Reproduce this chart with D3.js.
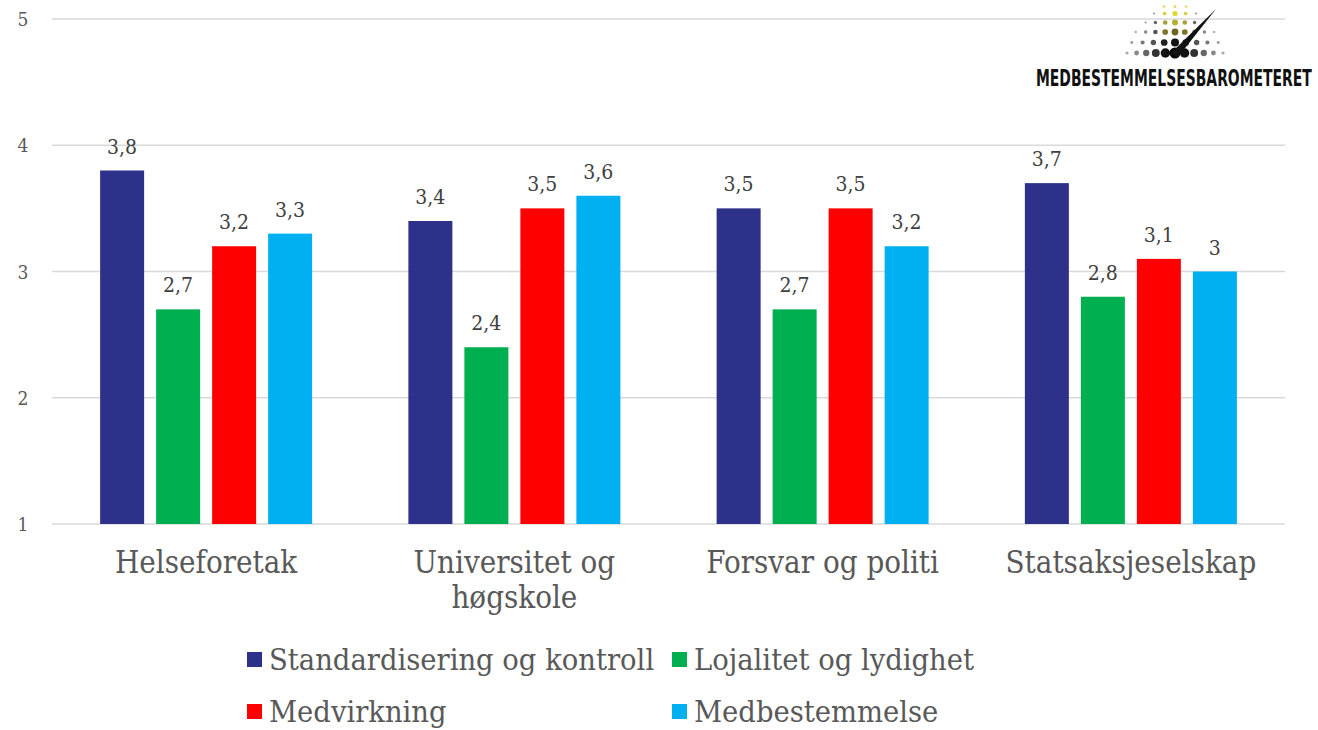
<!DOCTYPE html>
<html><head><meta charset="utf-8">
<script src="https://cdn.jsdelivr.net/npm/d3@7"></script>
<style>body{margin:0;background:#fff}svg{display:block}</style>
</head><body>
<svg id="c" width="1318" height="730"></svg>
<script>
const categories = [["Helseforetak"], ["Universitet og", "høgskole"], ["Forsvar og politi"], ["Statsaksjeselskap"]];
const seriesNames = ["Standardisering og kontroll", "Lojalitet og lydighet", "Medvirkning", "Medbestemmelse"];
const seriesColors = ["#2E3189", "#00B050", "#FF0000", "#00B0F0"];
const standardisering = [3.8, 3.4, 3.5, 3.7];
const lojalitet = [2.7, 2.4, 2.7, 2.8];
const medvirkning = [3.2, 3.5, 3.5, 3.1];
const medbestemmelse = [3.3, 3.6, 3.2, 3.0];
const yTicks = [1, 2, 3, 4, 5];
const seriesValues = [standardisering, lojalitet, medvirkning, medbestemmelse];

(function () {
const svg = d3.select("#c");
const serif = "'DejaVu Serif Condensed', 'DejaVu Serif', serif";
const pLeft = 52, pRight = 1285, pTop = 19, pBottom = 524;
const x0 = d3.scaleBand().domain(categories.map((d, i) => i)).range([pLeft, pRight]);
const bw = x0.bandwidth();
const x1 = d3.scaleBand().domain(d3.range(4)).range([(bw - 212) / 2, (bw + 212) / 2]).paddingInner(12 / 56).paddingOuter(0);
const y = d3.scaleLinear().domain([1, 5]).range([pBottom, pTop]);

svg.append("g").selectAll("line").data(yTicks).join("line")
  .attr("x1", pLeft).attr("x2", pRight)
  .attr("y1", d => y(d)).attr("y2", d => y(d))
  .attr("stroke", "#D9D9D9").attr("stroke-width", 1.3);

svg.append("g").selectAll("text").data(yTicks).join("text")
  .attr("x", 23).attr("y", d => y(d) + 7)
  .attr("text-anchor", "middle").attr("font-family", serif).attr("font-size", 19).attr("fill", "#595959")
  .text(d => d);

const groups = svg.append("g").selectAll("g").data(categories).join("g")
  .attr("transform", (d, i) => `translate(${x0(i)},0)`);
groups.each(function (c, ci) {
  const g = d3.select(this);
  seriesValues.forEach((vals, si) => {
    g.append("rect")
      .attr("x", x1(si)).attr("width", x1.bandwidth())
      .attr("y", y(vals[ci])).attr("height", y(1) - y(vals[ci]))
      .attr("fill", seriesColors[si]);
    g.append("text")
      .attr("x", x1(si) + x1.bandwidth() / 2).attr("y", y(vals[ci]) - 17)
      .attr("text-anchor", "middle").attr("font-family", serif).attr("font-size", 21).attr("fill", "#404040")
      .text(String(vals[ci]).replace(".", ","));
  });
  const t = g.append("text").attr("text-anchor", "middle").attr("font-family", serif)
    .attr("font-size", 31).attr("fill", "#595959");
  c.forEach((line, li) => {
    t.append("tspan").attr("x", bw / 2).attr("y", 573 + li * 35).text(line);
  });
});

const legendPos = [[247, 660], [672, 660], [247, 712], [672, 712]];
const leg = svg.append("g").selectAll("g").data(seriesNames).join("g")
  .attr("transform", (d, i) => `translate(${legendPos[i][0]},${legendPos[i][1]})`);
leg.append("rect").attr("x", 0).attr("y", -8).attr("width", 15).attr("height", 15).attr("fill", (d, i) => seriesColors[i]);
leg.append("text").attr("x", 22).attr("y", 10).attr("font-family", serif).attr("font-size", 30.5).attr("fill", "#595959").text(d => d);

// logo (decoration)
const logo = svg.append("g");
const cx = 1175, cy = 53;
const rowsSpec = [
  {dy: 0, n: 11, sp: 9.6, rc: 5.5, re: 1.6, col: ["#000", "#111", "#333", "#666", "#888", "#aaa"]},
  {dy: 10.5, n: 9, sp: 10.8, rc: 4, re: 1.4, col: ["#111", "#222", "#555", "#777", "#999"]},
  {dy: 21, n: 9, sp: 9.8, rc: 3.4, re: 1.2, col: ["#6d6520", "#7d7428", "#555", "#888", "#aaa"]},
  {dy: 30.5, n: 7, sp: 9.8, rc: 3, re: 1.1, col: ["#b9b030", "#a8a040", "#666", "#999"]},
  {dy: 39.5, n: 5, sp: 10.5, rc: 2.6, re: 1.1, col: ["#e0d830", "#d8d040", "#999"]},
  {dy: 46.5, n: 3, sp: 11, rc: 1.5, re: 1.3, col: ["#e8d860", "#e8d860"]}
];
const dots = [];
rowsSpec.forEach(r => {
  const h = (r.n - 1) / 2;
  for (let k = 0; k < r.n; k++) {
    const off = Math.abs(k - h);
    dots.push({x: cx + (k - h) * r.sp, y: cy - r.dy, r: r.rc - (r.rc - r.re) * (off / Math.max(h, 1)), c: r.col[Math.round(off)] || "#aaa"});
  }
});
logo.selectAll("circle").data(dots).join("circle").attr("cx", d => d.x).attr("cy", d => d.y).attr("r", d => d.r).attr("fill", d => d.c);
logo.append("path").attr("d", `M${cx - 5},${cy + 1} L${cx + 41},${cy - 44} L${cx + 3},${cy + 4} Z`).attr("fill", "#111");
const lt = logo.append("text").attr("font-family", "'DejaVu Sans Condensed', 'Liberation Sans Narrow', sans-serif")
  .attr("font-weight", "bold").attr("font-size", 23).attr("fill", "#111")
  .text("MEDBESTEMMELSESBAROMETERET");
const natural = lt.node().getComputedTextLength();
lt.attr("transform", `translate(1036,86) scale(${276 / natural},1)`);
})();
</script>
</body></html>
